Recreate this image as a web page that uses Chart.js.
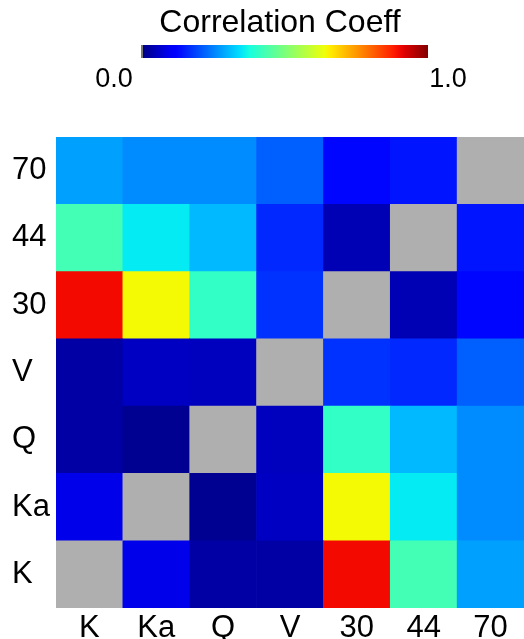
<!DOCTYPE html>
<html>
<head>
<meta charset="utf-8">
<script src="https://cdn.jsdelivr.net/npm/chart.js@4"></script>
<style>
  html, body { margin: 0; padding: 0; background: #fff; }
  #wrap { width: 524px; height: 639px; }
</style>
</head>
<body>
<div id="wrap"><canvas id="myChart"></canvas></div>
<script>
const labels = ['K', 'Ka', 'Q', 'V', '30', '44', '70'];

// one array per row, bottom (K) to top (70); null = diagonal
const rowK  = [null, 0.093, 0.032, 0.032, 0.90, 0.43, 0.282];
const rowKa = [0.093, null, 0.015, 0.058, 0.645, 0.355, 0.262];
const rowQ  = [0.032, 0.015, null, 0.055, 0.41, 0.306, 0.262];
const rowV  = [0.032, 0.058, 0.055, null, 0.174, 0.164, 0.218];
const row30 = [0.90, 0.645, 0.41, 0.174, null, 0.045, 0.13];
const row44 = [0.43, 0.355, 0.306, 0.164, 0.045, null, 0.145];
const row70 = [0.282, 0.262, 0.262, 0.218, 0.13, 0.145, null];
const rows = [rowK, rowKa, rowQ, rowV, row30, row44, row70];

const colorbarTitle = 'Correlation Coeff';
const colorbarTicks = ['0.0', '1.0'];

// jet colormap
function seg(v, pts) {
    for (let i = 1; i < pts.length; i++) {
        if (v <= pts[i][0]) {
            const [x0, y0] = pts[i - 1], [x1, y1] = pts[i];
            return y0 + (y1 - y0) * (v - x0) / (x1 - x0);
        }
    }
    return pts[pts.length - 1][1];
}
function jet(v) {
    v = Math.max(0, Math.min(1, v));
    const r = seg(v, [[0, 0], [0.35, 0], [0.66, 1], [0.89, 1], [1, 0.5]]);
    const g = seg(v, [[0, 0], [0.125, 0], [0.375, 1], [0.64, 1], [0.91, 0], [1, 0]]);
    const b = seg(v, [[0, 0.5], [0.11, 1], [0.34, 1], [0.65, 0], [1, 0]]);
    return `rgb(${Math.round(r * 255)},${Math.round(g * 255)},${Math.round(b * 255)})`;
}
const NAN_COLOR = '#afafaf';
const FONT = 'Liberation Sans, Arial, sans-serif';

const colorbarPlugin = {
    id: 'colorbar',
    afterDraw(chart) {
        const ctx = chart.ctx;
        const x0 = 141, x1 = 428, y0 = 45, h = 13;
        ctx.save();
        ctx.fillStyle = '#000';
        ctx.textAlign = 'center';
        ctx.textBaseline = 'alphabetic';
        ctx.font = `32px ${FONT}`;
        ctx.fillText(colorbarTitle, 280, 32);

        const grad = ctx.createLinearGradient(x0, 0, x1, 0);
        for (let i = 0; i <= 50; i++) grad.addColorStop(i / 50, jet(i / 50));
        ctx.fillStyle = grad;
        ctx.fillRect(x0, y0, x1 - x0, h);
        ctx.fillStyle = '#777';
        ctx.fillRect(x0, y0, 2, h);

        ctx.fillStyle = '#000';
        ctx.font = `27px ${FONT}`;
        ctx.fillText(colorbarTicks[0], 114, 87);
        ctx.fillText(colorbarTicks[1], 448, 87);
        ctx.restore();
    }
};

const ctx = document.getElementById('myChart');

new Chart(ctx.getContext('2d'), {
    type: 'bar',
    data: {
        labels: labels,
        datasets: rows.map((row, r) => ({
            label: labels[r],
            data: row.map(() => [r, r + 1]),
            backgroundColor: row.map(v => v === null ? NAN_COLOR : jet(v)),
            borderWidth: 0,
            grouped: false,
            barPercentage: 1,
            categoryPercentage: 1
        }))
    },
    options: {
        responsive: true,
        maintainAspectRatio: false,
        animation: false,
        layout: {
            padding: { top: 137, left: 12, right: -2, bottom: 0 }
        },
        plugins: {
            legend: { display: false },
            tooltip: { enabled: false }
        },
        scales: {
            x: {
                grid: { display: false, drawTicks: false },
                border: { display: false },
                ticks: {
                    color: '#000',
                    padding: 2,
                    font: { size: 31, family: FONT }
                },
                afterFit(scale) { scale.height = 31; }
            },
            y: {
                type: 'linear',
                min: 0,
                max: labels.length,
                grid: { display: false, drawTicks: false },
                border: { display: false },
                afterBuildTicks(scale) {
                    scale.ticks = labels.map((_, i) => ({ value: i + 0.5 }));
                },
                ticks: {
                    color: '#000',
                    crossAlign: 'far',
                    font: { size: 31, family: FONT },
                    callback: function(value) {
                        return labels[Math.floor(value)];
                    }
                },
                afterFit(scale) { scale.width = 44; }
            }
        }
    },
    plugins: [colorbarPlugin]
});
</script>
</body>
</html>
